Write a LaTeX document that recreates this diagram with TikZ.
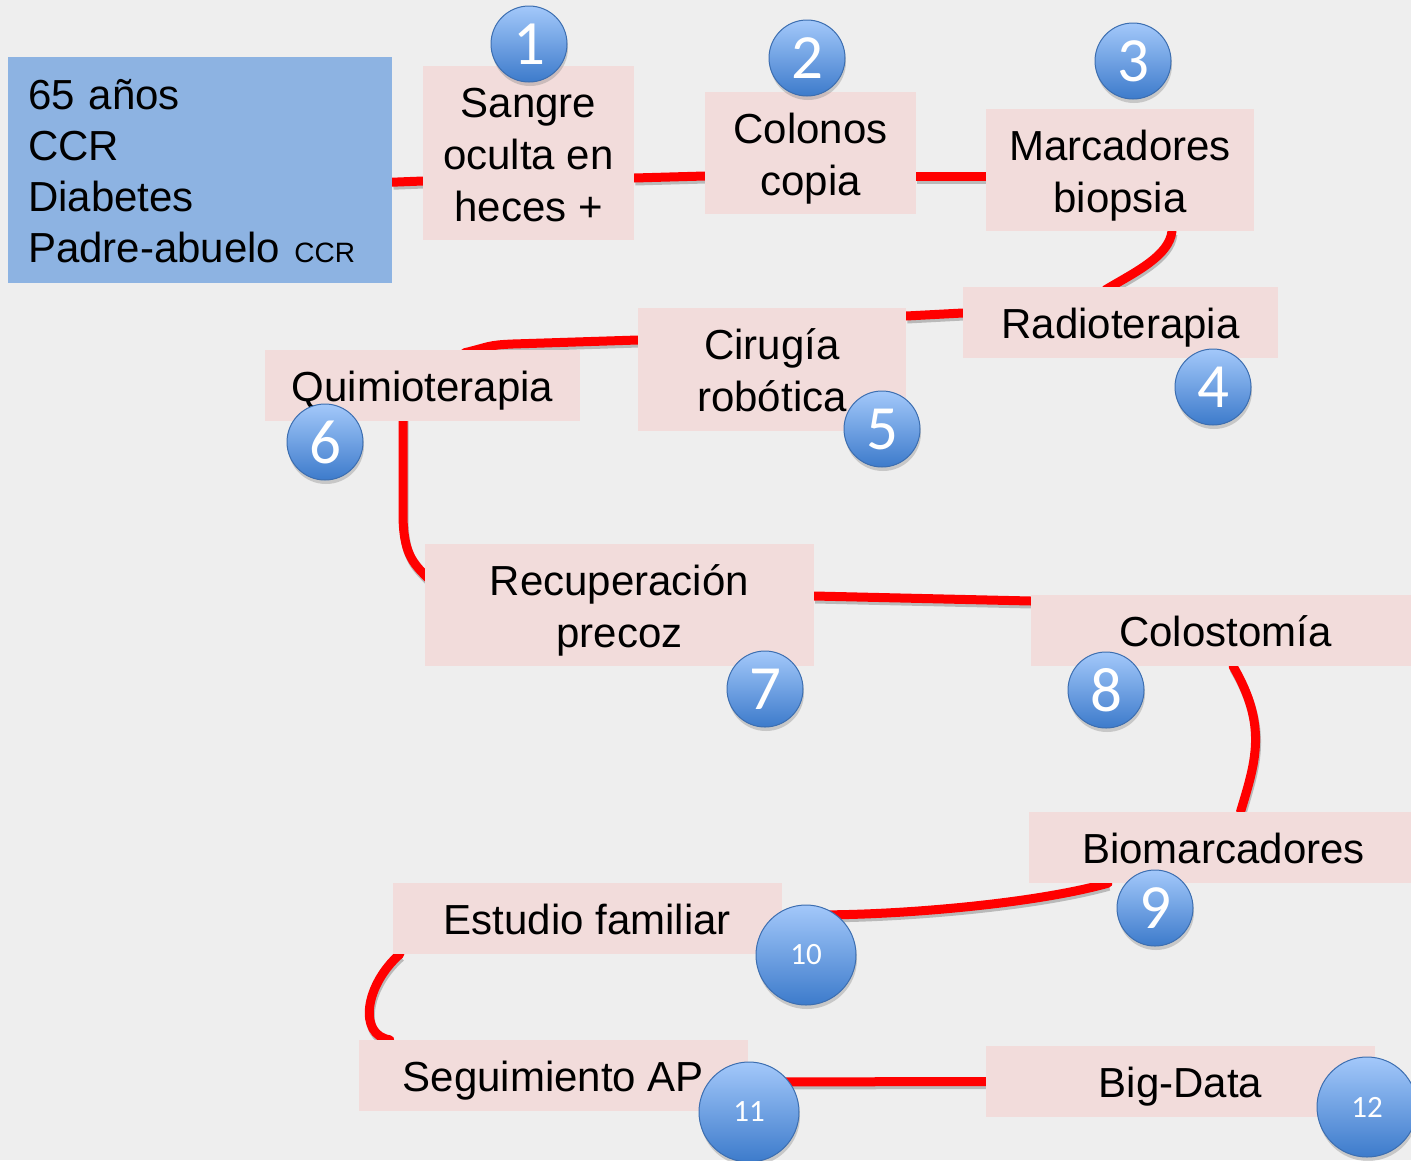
\documentclass[tikz,border=0pt]{standalone}
\usepackage{fontspec}
\setmainfont{Liberation Sans}
\newfontfamily\numfont{Carlito}
\usetikzlibrary{shadows}
\pgfdeclarelayer{bottom}
\pgfdeclarelayer{background}
\pgfsetlayers{bottom,background,main}
\definecolor{bgcol}{HTML}{EEEEEE}
\definecolor{boxpink}{HTML}{F2DCDB}
\definecolor{boxblue}{HTML}{8DB3E2}
\definecolor{linered}{HTML}{FF0000}
\definecolor{circtop}{HTML}{A3C8FA}
\definecolor{circbot}{HTML}{3D7BCB}
\definecolor{circedge}{HTML}{3C6EB0}
\newcommand\sst{\rule[-9pt]{0pt}{50pt}}
\begin{document}
\begin{tikzpicture}[x=1pt,y=-1pt,
  pinkbox/.style={fill=boxpink, inner sep=0pt, align=center,
    font=\fontsize{42}{52}\selectfont, minimum height=71},
  redline/.style={draw=linered, line width=9pt, line cap=round,
    preaction={draw=black, opacity=0.22, line width=9pt,
      transform canvas={shift={(1pt,-3pt)}}}},
  numcirc/.style={circle, minimum size=76, inner sep=0pt,
    top color=circtop, bottom color=circbot, draw=circedge, line width=1pt,
    text=white, font=\numfont\fontsize{63}{63}\selectfont,
    drop shadow={shadow xshift=1pt, shadow yshift=-4pt, opacity=0.35}},
  smallcirc/.style={numcirc, minimum size=100,
    font=\numfont\fontsize{31}{31}\selectfont}]

\begin{pgfonlayer}{bottom}
\fill[bgcol] (0,0) rectangle (1411,1160);
\end{pgfonlayer}
\useasboundingbox (0,0) rectangle (1411,1160);

% info box
\node[fill=boxblue, anchor=north west, minimum width=384, minimum height=226,
  text width=344, inner xsep=20pt, inner ysep=0pt, align=left,
  font=\fontsize{42}{51}\selectfont] (info) at (8,57)
  {\sst 65 años\\CCR\\Diabetes\\Padre-abuelo {\fontsize{28}{51}\selectfont CCR}\sst};

% pink boxes
\node[pinkbox, minimum width=211, minimum height=174] (b1) at (528.5,153) {\sst Sangre\\oculta en\\heces +\sst};
\node[pinkbox, minimum width=211, minimum height=122] (b2) at (810.5,153) {\sst Colonos\\copia\sst};
\node[pinkbox, minimum width=268, minimum height=122] (b3) at (1120,170) {\sst Marcadores\\biopsia\sst};
\node[pinkbox, minimum width=315] (b4) at (1120.5,322.5) {\sst Radioterapia};
\node[pinkbox, minimum width=268, minimum height=123] (b5) at (772,369.5) {\sst Cirugía\\robótica\sst};
\node[pinkbox, minimum width=315] (b6) at (422.5,385.5) {\sst Quimioterapia};
\node[pinkbox, minimum width=389, minimum height=122] (b7) at (619.5,605) {\sst Recuperación\\precoz\sst};
\node[pinkbox, minimum width=389] (b8) at (1225.5,630.5) {\sst Colostomía};
\node[pinkbox, minimum width=389] (b9) at (1223.5,847.5) {\sst Biomarcadores};
\node[pinkbox, minimum width=389] (b10) at (587.5,918.5) {\sst Estudio familiar};
\node[pinkbox, minimum width=389] (b11) at (553.5,1075.5) {\sst Seguimiento AP};
\node[pinkbox, minimum width=389] (b12) at (1180.5,1081.5) {\sst Big-Data};

% numbered circles
\node[numcirc] (c1) at (529,44) {1};
\node[numcirc] (c2) at (807,58) {2};
\node[numcirc] (c3) at (1133,61) {3};
\node[numcirc] (c4) at (1213,387) {4};
\node[numcirc] (c5) at (882,429) {5};
\node[numcirc] (c6) at (325,442) {6};
\node[numcirc] (c7) at (765,689) {7};
\node[numcirc] (c8) at (1106,690) {8};
\node[numcirc] (c9) at (1155,908) {9};
\node[smallcirc] (c10) at (806,955) {10};
\node[smallcirc] (c11) at (749,1112) {11};
\node[smallcirc] (c12) at (1367,1107) {12};

% red path
\begin{pgfonlayer}{background}
\draw[redline] ([yshift=-12pt]info.east) -- ([yshift=-28pt]b1.west);
\draw[redline] ([yshift=-25pt]b1.east) -- ([yshift=-23pt]b2.west);
\draw[redline] ([yshift=-23pt]b2.east) -- ([yshift=-6pt]b3.west);
\draw[redline] ([xshift=52pt]b3.south) .. controls +(-3,25) and +(30,-18) .. ([xshift=-15pt,yshift=-3pt]b4.north);
\draw[redline] ([yshift=9.5pt]b4.west) -- ([yshift=53.5pt]b5.east);
\draw[redline] ([yshift=29.5pt]b5.west) -- ++(-125,4) .. controls +(-25,1) and +(25,-6) .. ([xshift=42pt,yshift=-3pt]b6.north);
\draw[redline] ([xshift=-19.5pt,yshift=3pt]b6.south) -- ++(0,95) .. controls +(0,40) and +(-15,-15) .. ([xshift=3pt,yshift=27pt]b7.west);
\draw[redline] ([yshift=9pt]b7.east) -- ([yshift=29.5pt]b8.west);
\draw[redline] ([xshift=7.5pt]b8.south) .. controls +(35,60) and +(15,-50) .. ([xshift=17pt]b9.north);
\draw[redline] ([xshift=-115.5pt]b9.south) .. controls +(-90,25) and +(60,4) .. ([xshift=8pt,yshift=4.5pt]b10.east);
\draw[redline] ([xshift=7pt]b10.south west) .. controls +(-35,31) and +(-32,-5) .. ([xshift=31pt]b11.north west);
\draw[redline] ([yshift=-6.5pt]b11.east) -- (b12.west);
\end{pgfonlayer}
\end{tikzpicture}
\end{document}
